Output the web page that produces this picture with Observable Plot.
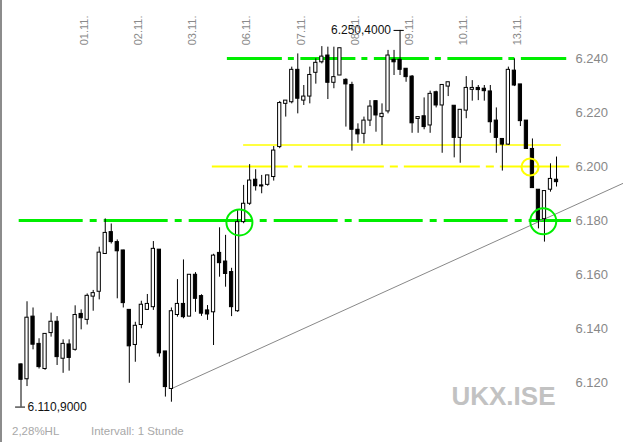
<!DOCTYPE html>
<html><head><meta charset="utf-8">
<script src="https://cdn.jsdelivr.net/npm/d3@7"></script>
<script src="https://cdn.jsdelivr.net/npm/@observablehq/plot@0.6"></script>
<style>
html,body{margin:0;padding:0;background:#fff;overflow:hidden}
#wrap{position:relative;width:623px;height:442px;font-family:"Liberation Sans",Arial,sans-serif}
#edge{position:absolute;left:0;top:0;width:2px;height:442px;background:#8c8c8c}
.foot{position:absolute;top:426px;font-size:11.5px;line-height:11.5px;color:#a8a8a8;white-space:nowrap}
#chart svg{display:block}
</style></head><body>
<div id="wrap"><div id="chart"></div><div id="edge"></div>
<span class="foot" style="left:12px">2,28%HL</span>
<span class="foot" style="left:91px">Intervall: 1 Stunde</span></div>
<script>
// hourly candles, UKX (FTSE 100)
const opens  = [6126.7,6121.2,6144.4,6134.3,6125.0,6138.3,6142.5,6128.8,6134.1,6132.1,
                6145.4,6143.2,6151.8,6153.6,6167.6,6175.7,6172.0,6168.9,6146.9,6133.9,
                6141.3,6146.9,6147.9,6169.2,6131.5,6117.6,6145.0,6149.1,6144.4,6159.9,
                6152.0,6146.7,6146.0,6168.0,6164.8,6160.9,6146.4,6179.4,6186.2,6195.1,
                6193.0,6193.2,6196.1,6207.2,6223.2,6223.8,6235.8,6224.4,6225.9,6234.7,
                6238.6,6241.1,6231.0,6233.7,6232.1,6230.2,6213.6,6212.1,6217.0,6224.2,
                6218.3,6220.4,6239.5,6239.5,6236.2,6233.3,6217.6,6218.6,6215.2,6227.5,
                6222.6,6229.6,6222.5,6210.6,6220.7,6228.4,6229.1,6228.8,6227.8,6217.0,
                6210.2,6208.1,6235.5,6230.4,6217.0,6206.5,6191.4,6180.5,6191.4,6195.1];
const highs  = [6126.9,6149.9,6147.6,6136.2,6138.0,6145.7,6144.4,6135.8,6135.8,6148.4,
                6146.9,6152.8,6154.1,6170.1,6180.6,6178.7,6172.8,6169.0,6147.0,6142.3,
                6150.1,6152.6,6172.2,6169.2,6131.5,6147.6,6158.1,6165.4,6159.9,6160.7,
                6152.5,6148.5,6167.5,6177.3,6174.5,6162.3,6183.7,6193.0,6200.7,6198.8,
                6196.7,6196.7,6207.4,6224.1,6224.4,6236.8,6241.7,6230.0,6236.8,6239.9,
                6244.4,6244.2,6244.2,6243.8,6232.5,6231.2,6215.8,6218.3,6224.4,6224.2,
                6223.2,6243.0,6243.0,6250.4,6236.2,6233.7,6218.3,6225.4,6227.9,6227.9,
                6230.2,6231.2,6222.5,6221.0,6233.3,6231.8,6230.0,6230.0,6230.0,6221.7,
                6210.2,6236.8,6239.9,6230.4,6217.0,6210.2,6191.4,6190.9,6201.0,6203.5];
const lows   = [6110.9,6118.5,6132.1,6125.0,6124.5,6136.8,6126.3,6123.4,6124.2,6131.6,
                6139.5,6141.3,6146.4,6150.6,6167.4,6171.3,6151.0,6147.6,6119.7,6127.5,
                6139.9,6146.7,6146.7,6129.4,6114.6,6112.7,6144.2,6143.6,6144.4,6146.0,
                6144.5,6143.0,6133.7,6159.0,6155.3,6144.4,6146.0,6178.8,6185.6,6190.9,
                6189.9,6192.7,6194.6,6206.6,6218.3,6223.2,6219.5,6222.6,6223.2,6230.5,
                6238.0,6224.8,6228.8,6233.7,6214.6,6205.7,6208.6,6208.4,6214.8,6212.7,
                6207.8,6219.5,6233.7,6233.7,6231.2,6212.3,6212.3,6213.6,6212.3,6221.7,
                6204.9,6225.9,6203.2,6201.2,6217.7,6224.2,6224.4,6224.2,6212.3,6204.9,
                6198.3,6207.8,6229.6,6214.8,6206.5,6192.0,6176.9,6172.0,6190.5,6192.4];
const closes = [6121.0,6144.0,6134.0,6125.7,6138.0,6142.5,6129.4,6134.3,6129.1,6145.0,
                6143.8,6152.1,6153.1,6168.1,6175.4,6172.0,6168.6,6149.4,6133.4,6141.0,
                6148.8,6149.1,6169.5,6130.8,6118.3,6146.4,6149.1,6144.2,6159.9,6151.0,
                6145.5,6145.2,6167.0,6164.2,6160.2,6147.9,6179.4,6186.2,6194.8,6192.7,
                6192.6,6196.7,6205.9,6223.5,6224.4,6235.8,6225.1,6225.9,6233.9,6238.4,
                6240.7,6231.0,6233.1,6243.8,6230.4,6213.6,6211.9,6217.0,6222.2,6218.9,
                6219.5,6241.1,6238.6,6235.8,6233.1,6216.0,6218.3,6214.6,6226.9,6222.6,
                6230.2,6231.2,6210.6,6221.0,6229.1,6229.1,6228.3,6227.9,6216.4,6210.6,
                6208.1,6235.8,6230.0,6216.8,6206.5,6192.0,6180.2,6190.9,6195.4,6194.2];

const dayTickIndex  = [11, 20, 29, 38, 47, 56, 65, 74, 83];
const dayTickLabels = ["01.11.","02.11.","03.11.","06.11.","07.11.","08.11.","09.11.","10.11.","13.11."];
const priceTicks = [6120, 6140, 6160, 6180, 6200, 6220, 6240];

// drawn levels (value, from candle, to candle)
const greenTopLevel    = {value: 6240, from: 35.3, to: 91.7};
const greenBottomLevel = {value: 6180, from: 0.7,  to: 92.5};
const yellowDashLevel  = {value: 6200, from: 32.8, to: 92.2};
const yellowSolidLevel = {value: 6208, from: 38.0, to: 90.8};
// trend line through the low body of candle 26
const trendPoints = [{i: 26, v: 6117.7}, {i: 101, v: 6193.7}];
// highlighted spots
const greenMarks  = [{i: 37.3, v: 6179.3}, {i: 87.8, v: 6179.7}];
const yellowMarks = [{i: 85.6, v: 6199.8}];
// extremes
const highMark = {i: 64, v: 6250.4, label: "6.250,4000"};
const lowMark  = {i: 1,  v: 6110.9, label: "6.110,9000"};

const candles = opens.map((o, k) => ({i: k + 1, o, h: highs[k], l: lows[k], c: closes[k]}));
const up = candles.filter(d => d.c >= d.o);
const down = candles.filter(d => d.c < d.o);
const green = "#00ee00", yellow = "#ffff00";
const hw = 0.27;
const fmt = v => d3.format(",")(v).replace(/,/g, ".");

const chart = Plot.plot({
  width: 623, height: 420,
  marginLeft: 20.5, marginRight: 67, marginTop: 17.5, marginBottom: 11,
  style: {fontFamily: "'Liberation Sans', Arial, sans-serif", background: "#fff"},
  x: {type: "linear", domain: [1, 90], axis: null},
  y: {domain: [6110, 6255]},
  marks: [
    Plot.ruleY([greenBottomLevel], {y: "value", x1: "from", x2: "to", stroke: green, strokeWidth: 3, strokeDasharray: "64,7,7,7"}),
    Plot.ruleY([greenTopLevel], {y: "value", x1: "from", x2: "to", stroke: green, strokeWidth: 3, strokeDasharray: "55,6,6,6.5"}),
    Plot.ruleY([yellowDashLevel], {y: "value", x1: "from", x2: "to", stroke: yellow, strokeWidth: 2.2, strokeDasharray: "76,6,8,6"}),
    Plot.ruleY([yellowSolidLevel], {y: "value", x1: "from", x2: "to", stroke: yellow, strokeWidth: 1.5}),
    Plot.line(trendPoints, {x: "i", y: "v", stroke: "#888", strokeWidth: 1}),
    Plot.ruleX(candles, {x: "i", y1: "l", y2: "h", stroke: "#000", strokeWidth: 1}),
    Plot.rect(up, {x1: d => d.i - hw, x2: d => d.i + hw, y1: "o", y2: "c", fill: "#fff", stroke: "#000", strokeWidth: 1}),
    Plot.rect(down, {x1: d => d.i - hw, x2: d => d.i + hw, y1: "c", y2: "o", fill: "#000", stroke: "#000", strokeWidth: 1}),
    Plot.dot(greenMarks, {x: "i", y: "v", r: 13, stroke: green, strokeWidth: 2, fill: "none"}),
    Plot.dot(yellowMarks, {x: "i", y: "v", r: 8.5, stroke: yellow, strokeWidth: 2, fill: "none"}),
    // extremes annotations
    Plot.ruleY([highMark], {y: "v", x1: d => d.i - 1, x2: d => d.i + 0.7, stroke: "#000", strokeWidth: 1}),
    Plot.text([highMark], {x: d => d.i - 1, y: "v", text: "label", textAnchor: "end", dx: -3, fontSize: 12, fill: "#111"}),
    Plot.ruleY([lowMark], {y: "v", x1: d => d.i - 0.9, x2: d => d.i + 0.75, stroke: "#000", strokeWidth: 1}),
    Plot.text([lowMark], {x: d => d.i + 0.75, y: "v", text: "label", textAnchor: "start", dx: 2, fontSize: 12, fill: "#111"}),
    // date labels at top
    Plot.text(dayTickIndex, {x: d => d, text: (d, k) => dayTickLabels[k], frameAnchor: "top", rotate: -90, textAnchor: "end", dx: -1, dy: -2.5, fontSize: 11, fill: "#8a8a8a"}),
    // price axis on the right
    Plot.axisY(priceTicks, {anchor: "right", tickSize: 0, tickPadding: 19, tickFormat: fmt, fontSize: 13, fill: "#888", label: null}),
    // watermark
    Plot.text(["UKX.ISE"], {frameAnchor: "bottom-right", textAnchor: "end", dx: -1, dy: -5, fontSize: 26, fontWeight: "bold", fill: "#c2c2c2"})
  ]
});
document.getElementById("chart").appendChild(chart);
</script>
</body></html>
